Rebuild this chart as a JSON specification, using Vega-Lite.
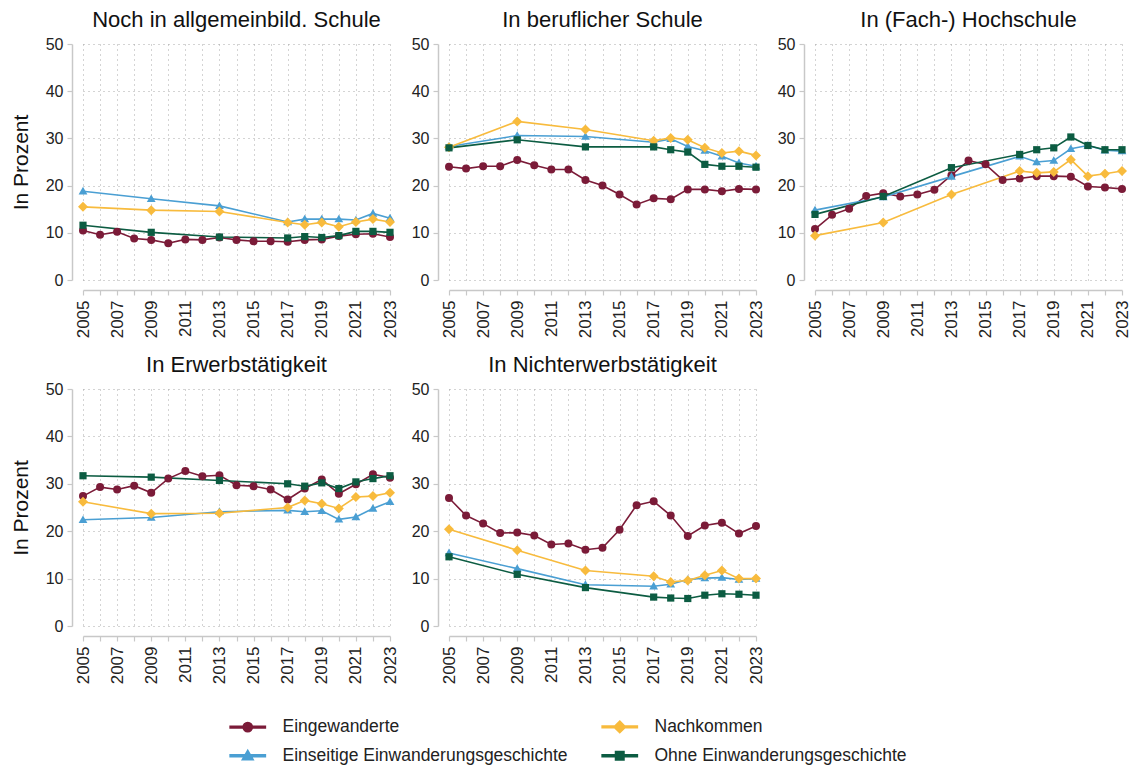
{
"$schema": "https://vega.github.io/schema/vega-lite/v6.json",
"padding": {"left": 10, "top": 9, "right": 5, "bottom": 5},
"background": "white",
"config": {
  "font": "Liberation Sans",
  "view": {"stroke": null},
  "axis": {"domainColor": "#c8c8c8", "domainWidth": 1.5, "tickColor": "#c8c8c8", "tickSize": 5, "tickWidth": 1.2, "gridColor": "#a8a8a8", "gridDash": [1, 4], "gridWidth": 1, "labelColor": "#222222", "titleColor": "#111111", "titleFontWeight": "normal", "labelFlush": false, "labelOverlap": false},
  "point": {"filled": true, "opacity": 1, "strokeWidth": 0, "size": 64},
  "line": {"strokeWidth": 1.6},
  "title": {"fontSize": 22, "fontWeight": "normal", "color": "#111111", "offset": 4, "baseline": "alphabetic", "frame": "group", "anchor": "middle"}
},
"data": {"values": [
{"p":"A","year":2005,"Eingewanderte":10.5,"Einseitige Einwanderungsgeschichte":18.8,"Nachkommen":15.5,"Ohne Einwanderungsgeschichte":11.6},
{"p":"A","year":2006,"Eingewanderte":9.6},
{"p":"A","year":2007,"Eingewanderte":10.2},
{"p":"A","year":2008,"Eingewanderte":8.8},
{"p":"A","year":2009,"Eingewanderte":8.5,"Einseitige Einwanderungsgeschichte":17.2,"Nachkommen":14.8,"Ohne Einwanderungsgeschichte":10.1},
{"p":"A","year":2010,"Eingewanderte":7.8},
{"p":"A","year":2011,"Eingewanderte":8.6},
{"p":"A","year":2012,"Eingewanderte":8.5},
{"p":"A","year":2013,"Eingewanderte":9.0,"Einseitige Einwanderungsgeschichte":15.7,"Nachkommen":14.5,"Ohne Einwanderungsgeschichte":9.1},
{"p":"A","year":2014,"Eingewanderte":8.5},
{"p":"A","year":2015,"Eingewanderte":8.2},
{"p":"A","year":2016,"Eingewanderte":8.2},
{"p":"A","year":2017,"Eingewanderte":8.1,"Einseitige Einwanderungsgeschichte":12.3,"Nachkommen":12.2,"Ohne Einwanderungsgeschichte":8.9},
{"p":"A","year":2018,"Eingewanderte":8.5,"Einseitige Einwanderungsgeschichte":12.9,"Nachkommen":11.7,"Ohne Einwanderungsgeschichte":9.2},
{"p":"A","year":2019,"Eingewanderte":8.6,"Einseitige Einwanderungsgeschichte":12.9,"Nachkommen":12.2,"Ohne Einwanderungsgeschichte":9.0},
{"p":"A","year":2020,"Eingewanderte":9.3,"Einseitige Einwanderungsgeschichte":12.9,"Nachkommen":11.3,"Ohne Einwanderungsgeschichte":9.4},
{"p":"A","year":2021,"Eingewanderte":9.7,"Einseitige Einwanderungsgeschichte":12.7,"Nachkommen":12.3,"Ohne Einwanderungsgeschichte":10.3},
{"p":"A","year":2022,"Eingewanderte":9.8,"Einseitige Einwanderungsgeschichte":14.1,"Nachkommen":12.9,"Ohne Einwanderungsgeschichte":10.3},
{"p":"A","year":2023,"Eingewanderte":9.1,"Einseitige Einwanderungsgeschichte":13.1,"Nachkommen":12.3,"Ohne Einwanderungsgeschichte":10.1},
{"p":"B","year":2005,"Eingewanderte":24.0,"Einseitige Einwanderungsgeschichte":28.3,"Nachkommen":28.1,"Ohne Einwanderungsgeschichte":28.0},
{"p":"B","year":2006,"Eingewanderte":23.6},
{"p":"B","year":2007,"Eingewanderte":24.1},
{"p":"B","year":2008,"Eingewanderte":24.1},
{"p":"B","year":2009,"Eingewanderte":25.4,"Einseitige Einwanderungsgeschichte":30.6,"Nachkommen":33.6,"Ohne Einwanderungsgeschichte":29.7},
{"p":"B","year":2010,"Eingewanderte":24.3},
{"p":"B","year":2011,"Eingewanderte":23.4},
{"p":"B","year":2012,"Eingewanderte":23.4},
{"p":"B","year":2013,"Eingewanderte":21.2,"Einseitige Einwanderungsgeschichte":30.4,"Nachkommen":31.9,"Ohne Einwanderungsgeschichte":28.2},
{"p":"B","year":2014,"Eingewanderte":20.0},
{"p":"B","year":2015,"Eingewanderte":18.1},
{"p":"B","year":2016,"Eingewanderte":16.0},
{"p":"B","year":2017,"Eingewanderte":17.3,"Einseitige Einwanderungsgeschichte":29.2,"Nachkommen":29.5,"Ohne Einwanderungsgeschichte":28.2},
{"p":"B","year":2018,"Eingewanderte":17.1,"Einseitige Einwanderungsgeschichte":29.9,"Nachkommen":30.1,"Ohne Einwanderungsgeschichte":27.6},
{"p":"B","year":2019,"Eingewanderte":19.2,"Einseitige Einwanderungsgeschichte":28.3,"Nachkommen":29.7,"Ohne Einwanderungsgeschichte":27.1},
{"p":"B","year":2020,"Eingewanderte":19.2,"Einseitige Einwanderungsgeschichte":27.4,"Nachkommen":28.0,"Ohne Einwanderungsgeschichte":24.5},
{"p":"B","year":2021,"Eingewanderte":18.8,"Einseitige Einwanderungsgeschichte":26.2,"Nachkommen":26.9,"Ohne Einwanderungsgeschichte":24.1},
{"p":"B","year":2022,"Eingewanderte":19.3,"Einseitige Einwanderungsgeschichte":24.8,"Nachkommen":27.3,"Ohne Einwanderungsgeschichte":24.1},
{"p":"B","year":2023,"Eingewanderte":19.2,"Einseitige Einwanderungsgeschichte":24.1,"Nachkommen":26.4,"Ohne Einwanderungsgeschichte":23.9},
{"p":"C","year":2005,"Eingewanderte":10.8,"Einseitige Einwanderungsgeschichte":14.8,"Nachkommen":9.4,"Ohne Einwanderungsgeschichte":13.9},
{"p":"C","year":2006,"Eingewanderte":13.8},
{"p":"C","year":2007,"Eingewanderte":15.1},
{"p":"C","year":2008,"Eingewanderte":17.8},
{"p":"C","year":2009,"Eingewanderte":18.4,"Einseitige Einwanderungsgeschichte":17.6,"Nachkommen":12.2,"Ohne Einwanderungsgeschichte":17.7},
{"p":"C","year":2010,"Eingewanderte":17.7},
{"p":"C","year":2011,"Eingewanderte":18.1},
{"p":"C","year":2012,"Eingewanderte":19.1},
{"p":"C","year":2013,"Eingewanderte":22.2,"Einseitige Einwanderungsgeschichte":21.9,"Nachkommen":18.1,"Ohne Einwanderungsgeschichte":23.8},
{"p":"C","year":2014,"Eingewanderte":25.3},
{"p":"C","year":2015,"Eingewanderte":24.5},
{"p":"C","year":2016,"Eingewanderte":21.2},
{"p":"C","year":2017,"Eingewanderte":21.5,"Einseitige Einwanderungsgeschichte":26.2,"Nachkommen":23.1,"Ohne Einwanderungsgeschichte":26.6},
{"p":"C","year":2018,"Eingewanderte":22.0,"Einseitige Einwanderungsgeschichte":25.0,"Nachkommen":22.7,"Ohne Einwanderungsgeschichte":27.6},
{"p":"C","year":2019,"Eingewanderte":22.0,"Einseitige Einwanderungsgeschichte":25.3,"Nachkommen":22.9,"Ohne Einwanderungsgeschichte":28.0},
{"p":"C","year":2020,"Eingewanderte":21.9,"Einseitige Einwanderungsgeschichte":27.8,"Nachkommen":25.5,"Ohne Einwanderungsgeschichte":30.3},
{"p":"C","year":2021,"Eingewanderte":19.8,"Einseitige Einwanderungsgeschichte":28.5,"Nachkommen":22.0,"Ohne Einwanderungsgeschichte":28.5},
{"p":"C","year":2022,"Eingewanderte":19.6,"Einseitige Einwanderungsgeschichte":27.5,"Nachkommen":22.5,"Ohne Einwanderungsgeschichte":27.6},
{"p":"C","year":2023,"Eingewanderte":19.3,"Einseitige Einwanderungsgeschichte":27.3,"Nachkommen":23.1,"Ohne Einwanderungsgeschichte":27.6},
{"p":"D","year":2005,"Eingewanderte":27.4,"Einseitige Einwanderungsgeschichte":22.4,"Nachkommen":26.2,"Ohne Einwanderungsgeschichte":31.7},
{"p":"D","year":2006,"Eingewanderte":29.3},
{"p":"D","year":2007,"Eingewanderte":28.8},
{"p":"D","year":2008,"Eingewanderte":29.6},
{"p":"D","year":2009,"Eingewanderte":28.1,"Einseitige Einwanderungsgeschichte":22.9,"Nachkommen":23.7,"Ohne Einwanderungsgeschichte":31.4},
{"p":"D","year":2010,"Eingewanderte":31.1},
{"p":"D","year":2011,"Eingewanderte":32.7},
{"p":"D","year":2012,"Eingewanderte":31.6},
{"p":"D","year":2013,"Eingewanderte":31.8,"Einseitige Einwanderungsgeschichte":24.1,"Nachkommen":23.8,"Ohne Einwanderungsgeschichte":30.7},
{"p":"D","year":2014,"Eingewanderte":29.7},
{"p":"D","year":2015,"Eingewanderte":29.5},
{"p":"D","year":2016,"Eingewanderte":28.8},
{"p":"D","year":2017,"Eingewanderte":26.7,"Einseitige Einwanderungsgeschichte":24.4,"Nachkommen":25.0,"Ohne Einwanderungsgeschichte":30.0},
{"p":"D","year":2018,"Eingewanderte":29.0,"Einseitige Einwanderungsgeschichte":24.1,"Nachkommen":26.5,"Ohne Einwanderungsgeschichte":29.5},
{"p":"D","year":2019,"Eingewanderte":30.9,"Einseitige Einwanderungsgeschichte":24.3,"Nachkommen":25.8,"Ohne Einwanderungsgeschichte":30.2},
{"p":"D","year":2020,"Eingewanderte":27.9,"Einseitige Einwanderungsgeschichte":22.5,"Nachkommen":24.8,"Ohne Einwanderungsgeschichte":29.0},
{"p":"D","year":2021,"Eingewanderte":29.9,"Einseitige Einwanderungsgeschichte":23.0,"Nachkommen":27.2,"Ohne Einwanderungsgeschichte":30.4},
{"p":"D","year":2022,"Eingewanderte":32.0,"Einseitige Einwanderungsgeschichte":24.8,"Nachkommen":27.4,"Ohne Einwanderungsgeschichte":31.1},
{"p":"D","year":2023,"Eingewanderte":31.3,"Einseitige Einwanderungsgeschichte":26.2,"Nachkommen":28.1,"Ohne Einwanderungsgeschichte":31.7},
{"p":"E","year":2005,"Eingewanderte":27.0,"Einseitige Einwanderungsgeschichte":15.4,"Nachkommen":20.4,"Ohne Einwanderungsgeschichte":14.6},
{"p":"E","year":2006,"Eingewanderte":23.3},
{"p":"E","year":2007,"Eingewanderte":21.6},
{"p":"E","year":2008,"Eingewanderte":19.6},
{"p":"E","year":2009,"Eingewanderte":19.7,"Einseitige Einwanderungsgeschichte":12.1,"Nachkommen":16.0,"Ohne Einwanderungsgeschichte":10.9},
{"p":"E","year":2010,"Eingewanderte":19.1},
{"p":"E","year":2011,"Eingewanderte":17.2},
{"p":"E","year":2012,"Eingewanderte":17.4},
{"p":"E","year":2013,"Eingewanderte":16.1,"Einseitige Einwanderungsgeschichte":8.7,"Nachkommen":11.7,"Ohne Einwanderungsgeschichte":8.1},
{"p":"E","year":2014,"Eingewanderte":16.5},
{"p":"E","year":2015,"Eingewanderte":20.3},
{"p":"E","year":2016,"Eingewanderte":25.5},
{"p":"E","year":2017,"Eingewanderte":26.3,"Einseitige Einwanderungsgeschichte":8.4,"Nachkommen":10.5,"Ohne Einwanderungsgeschichte":6.1},
{"p":"E","year":2018,"Eingewanderte":23.3,"Einseitige Einwanderungsgeschichte":8.8,"Nachkommen":9.3,"Ohne Einwanderungsgeschichte":5.9},
{"p":"E","year":2019,"Eingewanderte":19.0,"Einseitige Einwanderungsgeschichte":9.8,"Nachkommen":9.6,"Ohne Einwanderungsgeschichte":5.8},
{"p":"E","year":2020,"Eingewanderte":21.2,"Einseitige Einwanderungsgeschichte":10.1,"Nachkommen":10.7,"Ohne Einwanderungsgeschichte":6.5},
{"p":"E","year":2021,"Eingewanderte":21.8,"Einseitige Einwanderungsgeschichte":10.2,"Nachkommen":11.7,"Ohne Einwanderungsgeschichte":6.8},
{"p":"E","year":2022,"Eingewanderte":19.5,"Einseitige Einwanderungsgeschichte":9.8,"Nachkommen":10.0,"Ohne Einwanderungsgeschichte":6.7},
{"p":"E","year":2023,"Eingewanderte":21.1,"Einseitige Einwanderungsgeschichte":10.0,"Nachkommen":10.0,"Ohne Einwanderungsgeschichte":6.5}
]},
"spacing": 16,
"vconcat": [
{"spacing": 13, "hconcat": [
{"width": 307, "height": 236, "title": "Noch in allgemeinbild. Schule",
 "transform": [{"filter": "datum.p === 'A'"}, {"fold": ["Eingewanderte", "Einseitige Einwanderungsgeschichte", "Nachkommen", "Ohne Einwanderungsgeschichte"], "as": ["g", "v"]}, {"filter": "isValid(datum.v)"}],
 "encoding": {
  "x": {"field": "year", "type": "quantitative", "scale": {"domain": [2005, 2023], "nice": false, "zero": false}, "axis": {"values": [2005,2006,2007,2008,2009,2010,2011,2012,2013,2014,2015,2016,2017,2018,2019,2020,2021,2022,2023], "labelExpr": "datum.value % 2 === 1 ? datum.label : ''", "format": "d", "labelAngle": -90, "labelFontSize": 17, "labelPadding": 5, "offset": 10, "title": null}},
  "y": {"field": "v", "type": "quantitative", "scale": {"domain": [0, 50], "nice": false}, "axis": {"values": [0,10,20,30,40,50], "labelFontSize": 16, "labelPadding": 4, "offset": 11, "title": "In Prozent", "titleFontSize": 21, "titlePadding": 14}},
  "color": {"field": "g", "type": "nominal", "scale": {"domain": ["Eingewanderte", "Einseitige Einwanderungsgeschichte", "Nachkommen", "Ohne Einwanderungsgeschichte"], "range": ["#7b1b38", "#4a9fd3", "#f8bb3d", "#0c5c42"]},
   "legend": {"title": null, "orient": "none", "legendX": 156, "legendY": 674, "columns": 2, "columnPadding": 30, "rowPadding": 10, "symbolSize": 64, "symbolStrokeWidth": 0, "labelOffset": 26, "labelFontSize": 17.5, "labelColor": "#222222", "labelLimit": 500}}
 },
 "layer": [
  {"mark": "line"},
  {"transform": [{"filter": "datum.g === 'Eingewanderte'"}], "mark": {"type": "point", "shape": "circle"}},
  {"transform": [{"filter": "datum.g === 'Einseitige Einwanderungsgeschichte'"}], "mark": {"type": "point", "shape": "M0,-1.1L1.1,0.8L-1.1,0.8Z"}},
  {"transform": [{"filter": "datum.g === 'Nachkommen'"}], "mark": {"type": "point", "shape": "M0,-1.25L1.25,0L0,1.25L-1.25,0Z"}},
  {"transform": [{"filter": "datum.g === 'Ohne Einwanderungsgeschichte'"}], "mark": {"type": "point", "shape": "M-0.9,-0.9L0.9,-0.9L0.9,0.9L-0.9,0.9Z"}},
  {"transform": [{"filter": "false"}], "mark": {"type": "point"}, "encoding": {"shape": {"field": "g", "type": "nominal", "scale": {"domain": ["Eingewanderte", "Einseitige Einwanderungsgeschichte", "Nachkommen", "Ohne Einwanderungsgeschichte"], "range": ["M-4.4,-0.22L4.4,-0.22L4.4,0.22L-4.4,0.22Z M1.15,0A1.15,1.15,0,1,1,-1.15,0A1.15,1.15,0,1,1,1.15,0Z", "M-4.4,-0.22L4.4,-0.22L4.4,0.22L-4.4,0.22Z M0,-1.35L1.35,1L-1.35,1Z", "M-4.4,-0.22L4.4,-0.22L4.4,0.22L-4.4,0.22Z M0,-1.45L1.45,0L0,1.45L-1.45,0Z", "M-4.4,-0.22L4.4,-0.22L4.4,0.22L-4.4,0.22Z M-1.05,-1.05L1.05,-1.05L1.05,1.05L-1.05,1.05Z"]},
    "legend": {"title": null, "orient": "none", "legendX": 156, "legendY": 674, "columns": 2, "columnPadding": 30, "rowPadding": 10, "symbolSize": 64, "symbolStrokeWidth": 0, "labelOffset": 26, "labelFontSize": 17.5, "labelColor": "#222222", "labelLimit": 500}}}}
 ]
},
{"width": 307, "height": 236, "title": "In beruflicher Schule",
 "transform": [{"filter": "datum.p === 'B'"}, {"fold": ["Eingewanderte", "Einseitige Einwanderungsgeschichte", "Nachkommen", "Ohne Einwanderungsgeschichte"], "as": ["g", "v"]}, {"filter": "isValid(datum.v)"}],
 "encoding": {
  "x": {"field": "year", "type": "quantitative", "scale": {"domain": [2005, 2023], "nice": false, "zero": false}, "axis": {"values": [2005,2006,2007,2008,2009,2010,2011,2012,2013,2014,2015,2016,2017,2018,2019,2020,2021,2022,2023], "labelExpr": "datum.value % 2 === 1 ? datum.label : ''", "format": "d", "labelAngle": -90, "labelFontSize": 17, "labelPadding": 5, "offset": 10, "title": null}},
  "y": {"field": "v", "type": "quantitative", "scale": {"domain": [0, 50], "nice": false}, "axis": {"values": [0,10,20,30,40,50], "labelFontSize": 16, "labelPadding": 4, "offset": 11, "title": null}},
  "color": {"field": "g", "type": "nominal", "scale": {"domain": ["Eingewanderte", "Einseitige Einwanderungsgeschichte", "Nachkommen", "Ohne Einwanderungsgeschichte"], "range": ["#7b1b38", "#4a9fd3", "#f8bb3d", "#0c5c42"]},
   "legend": {"title": null, "orient": "none", "legendX": 156, "legendY": 674, "columns": 2, "columnPadding": 30, "rowPadding": 10, "symbolSize": 64, "symbolStrokeWidth": 0, "labelOffset": 26, "labelFontSize": 17.5, "labelColor": "#222222", "labelLimit": 500}}
 },
 "layer": [
  {"mark": "line"},
  {"transform": [{"filter": "datum.g === 'Eingewanderte'"}], "mark": {"type": "point", "shape": "circle"}},
  {"transform": [{"filter": "datum.g === 'Einseitige Einwanderungsgeschichte'"}], "mark": {"type": "point", "shape": "M0,-1.1L1.1,0.8L-1.1,0.8Z"}},
  {"transform": [{"filter": "datum.g === 'Nachkommen'"}], "mark": {"type": "point", "shape": "M0,-1.25L1.25,0L0,1.25L-1.25,0Z"}},
  {"transform": [{"filter": "datum.g === 'Ohne Einwanderungsgeschichte'"}], "mark": {"type": "point", "shape": "M-0.9,-0.9L0.9,-0.9L0.9,0.9L-0.9,0.9Z"}}
 ]
},
{"width": 307, "height": 236, "title": "In (Fach-) Hochschule",
 "transform": [{"filter": "datum.p === 'C'"}, {"fold": ["Eingewanderte", "Einseitige Einwanderungsgeschichte", "Nachkommen", "Ohne Einwanderungsgeschichte"], "as": ["g", "v"]}, {"filter": "isValid(datum.v)"}],
 "encoding": {
  "x": {"field": "year", "type": "quantitative", "scale": {"domain": [2005, 2023], "nice": false, "zero": false}, "axis": {"values": [2005,2006,2007,2008,2009,2010,2011,2012,2013,2014,2015,2016,2017,2018,2019,2020,2021,2022,2023], "labelExpr": "datum.value % 2 === 1 ? datum.label : ''", "format": "d", "labelAngle": -90, "labelFontSize": 17, "labelPadding": 5, "offset": 10, "title": null}},
  "y": {"field": "v", "type": "quantitative", "scale": {"domain": [0, 50], "nice": false}, "axis": {"values": [0,10,20,30,40,50], "labelFontSize": 16, "labelPadding": 4, "offset": 11, "title": null}},
  "color": {"field": "g", "type": "nominal", "scale": {"domain": ["Eingewanderte", "Einseitige Einwanderungsgeschichte", "Nachkommen", "Ohne Einwanderungsgeschichte"], "range": ["#7b1b38", "#4a9fd3", "#f8bb3d", "#0c5c42"]},
   "legend": {"title": null, "orient": "none", "legendX": 156, "legendY": 674, "columns": 2, "columnPadding": 30, "rowPadding": 10, "symbolSize": 64, "symbolStrokeWidth": 0, "labelOffset": 26, "labelFontSize": 17.5, "labelColor": "#222222", "labelLimit": 500}}
 },
 "layer": [
  {"mark": "line"},
  {"transform": [{"filter": "datum.g === 'Eingewanderte'"}], "mark": {"type": "point", "shape": "circle"}},
  {"transform": [{"filter": "datum.g === 'Einseitige Einwanderungsgeschichte'"}], "mark": {"type": "point", "shape": "M0,-1.1L1.1,0.8L-1.1,0.8Z"}},
  {"transform": [{"filter": "datum.g === 'Nachkommen'"}], "mark": {"type": "point", "shape": "M0,-1.25L1.25,0L0,1.25L-1.25,0Z"}},
  {"transform": [{"filter": "datum.g === 'Ohne Einwanderungsgeschichte'"}], "mark": {"type": "point", "shape": "M-0.9,-0.9L0.9,-0.9L0.9,0.9L-0.9,0.9Z"}}
 ]
}
]},
{"spacing": 13, "hconcat": [
{"width": 307, "height": 237, "title": "In Erwerbstätigkeit",
 "transform": [{"filter": "datum.p === 'D'"}, {"fold": ["Eingewanderte", "Einseitige Einwanderungsgeschichte", "Nachkommen", "Ohne Einwanderungsgeschichte"], "as": ["g", "v"]}, {"filter": "isValid(datum.v)"}],
 "encoding": {
  "x": {"field": "year", "type": "quantitative", "scale": {"domain": [2005, 2023], "nice": false, "zero": false}, "axis": {"values": [2005,2006,2007,2008,2009,2010,2011,2012,2013,2014,2015,2016,2017,2018,2019,2020,2021,2022,2023], "labelExpr": "datum.value % 2 === 1 ? datum.label : ''", "format": "d", "labelAngle": -90, "labelFontSize": 17, "labelPadding": 5, "offset": 10, "title": null}},
  "y": {"field": "v", "type": "quantitative", "scale": {"domain": [0, 50], "nice": false}, "axis": {"values": [0,10,20,30,40,50], "labelFontSize": 16, "labelPadding": 4, "offset": 11, "title": "In Prozent", "titleFontSize": 21, "titlePadding": 14}},
  "color": {"field": "g", "type": "nominal", "scale": {"domain": ["Eingewanderte", "Einseitige Einwanderungsgeschichte", "Nachkommen", "Ohne Einwanderungsgeschichte"], "range": ["#7b1b38", "#4a9fd3", "#f8bb3d", "#0c5c42"]},
   "legend": {"title": null, "orient": "none", "legendX": 156, "legendY": 674, "columns": 2, "columnPadding": 30, "rowPadding": 10, "symbolSize": 64, "symbolStrokeWidth": 0, "labelOffset": 26, "labelFontSize": 17.5, "labelColor": "#222222", "labelLimit": 500}}
 },
 "layer": [
  {"mark": "line"},
  {"transform": [{"filter": "datum.g === 'Eingewanderte'"}], "mark": {"type": "point", "shape": "circle"}},
  {"transform": [{"filter": "datum.g === 'Einseitige Einwanderungsgeschichte'"}], "mark": {"type": "point", "shape": "M0,-1.1L1.1,0.8L-1.1,0.8Z"}},
  {"transform": [{"filter": "datum.g === 'Nachkommen'"}], "mark": {"type": "point", "shape": "M0,-1.25L1.25,0L0,1.25L-1.25,0Z"}},
  {"transform": [{"filter": "datum.g === 'Ohne Einwanderungsgeschichte'"}], "mark": {"type": "point", "shape": "M-0.9,-0.9L0.9,-0.9L0.9,0.9L-0.9,0.9Z"}}
 ]
},
{"width": 307, "height": 237, "title": "In Nichterwerbstätigkeit",
 "transform": [{"filter": "datum.p === 'E'"}, {"fold": ["Eingewanderte", "Einseitige Einwanderungsgeschichte", "Nachkommen", "Ohne Einwanderungsgeschichte"], "as": ["g", "v"]}, {"filter": "isValid(datum.v)"}],
 "encoding": {
  "x": {"field": "year", "type": "quantitative", "scale": {"domain": [2005, 2023], "nice": false, "zero": false}, "axis": {"values": [2005,2006,2007,2008,2009,2010,2011,2012,2013,2014,2015,2016,2017,2018,2019,2020,2021,2022,2023], "labelExpr": "datum.value % 2 === 1 ? datum.label : ''", "format": "d", "labelAngle": -90, "labelFontSize": 17, "labelPadding": 5, "offset": 10, "title": null}},
  "y": {"field": "v", "type": "quantitative", "scale": {"domain": [0, 50], "nice": false}, "axis": {"values": [0,10,20,30,40,50], "labelFontSize": 16, "labelPadding": 4, "offset": 11, "title": null}},
  "color": {"field": "g", "type": "nominal", "scale": {"domain": ["Eingewanderte", "Einseitige Einwanderungsgeschichte", "Nachkommen", "Ohne Einwanderungsgeschichte"], "range": ["#7b1b38", "#4a9fd3", "#f8bb3d", "#0c5c42"]},
   "legend": {"title": null, "orient": "none", "legendX": 156, "legendY": 674, "columns": 2, "columnPadding": 30, "rowPadding": 10, "symbolSize": 64, "symbolStrokeWidth": 0, "labelOffset": 26, "labelFontSize": 17.5, "labelColor": "#222222", "labelLimit": 500}}
 },
 "layer": [
  {"mark": "line"},
  {"transform": [{"filter": "datum.g === 'Eingewanderte'"}], "mark": {"type": "point", "shape": "circle"}},
  {"transform": [{"filter": "datum.g === 'Einseitige Einwanderungsgeschichte'"}], "mark": {"type": "point", "shape": "M0,-1.1L1.1,0.8L-1.1,0.8Z"}},
  {"transform": [{"filter": "datum.g === 'Nachkommen'"}], "mark": {"type": "point", "shape": "M0,-1.25L1.25,0L0,1.25L-1.25,0Z"}},
  {"transform": [{"filter": "datum.g === 'Ohne Einwanderungsgeschichte'"}], "mark": {"type": "point", "shape": "M-0.9,-0.9L0.9,-0.9L0.9,0.9L-0.9,0.9Z"}}
 ]
}
]}
]
}
